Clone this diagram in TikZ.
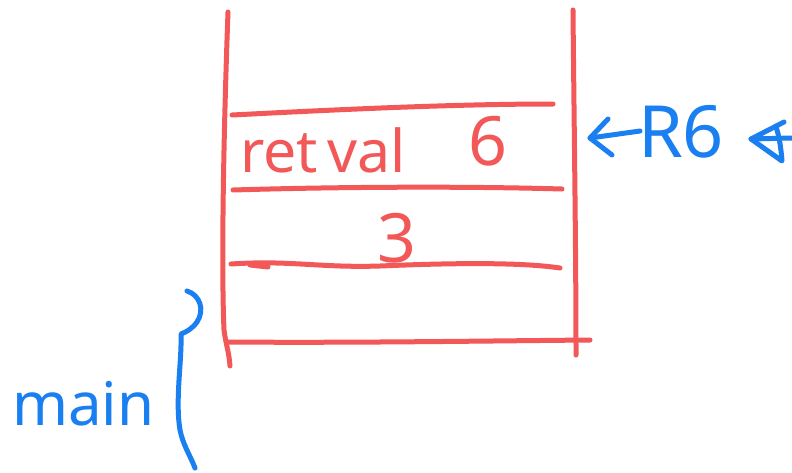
\documentclass[tikz,border=0pt]{standalone}
\usepackage{fontspec}
\setmainfont{Noto Sans}
\definecolor{inkred}{HTML}{F25858}
\definecolor{inkblue}{HTML}{1A7FF0}
\begin{document}
\begin{tikzpicture}[x=1pt,y=-1pt,
  pen/.style={line width=5pt,line cap=round,line join=round},
  redpen/.style={pen,draw=inkred},
  bluepen/.style={pen,draw=inkblue},
  redtext/.style={text=inkred,inner sep=0pt},
  bluetext/.style={text=inkblue,inner sep=0pt}]
\useasboundingbox[fill=white] (0,0) rectangle (792,472);

% stack frame: side walls
\draw[redpen] (228,12) .. controls (224,120) and (221,260) .. (224,330) .. controls (226,345) and (229,352) .. (230,366);
\draw[redpen] (573,10) .. controls (574,120) and (576,250) .. (576,355);
% slot separators
\draw[redpen] (232,115) .. controls (330,110) and (450,104) .. (553,104);
\draw[redpen] (233,190) .. controls (330,187) and (460,186) .. (562,189);
\draw[redpen] (231,264) .. controls (290,260) and (320,268) .. (380,266) .. controls (450,263) and (520,262) .. (560,268);
\draw[redpen] (250,265) -- (268,267);
\draw[redpen] (228,342) .. controls (350,343) and (480,341) .. (590,340);

% slot contents
\node[redtext,font=\fontsize{59}{59}\selectfont,anchor=base west] (retval) at (240,172) {ret\,val};
\node[redtext,font=\fontsize{68}{68}\selectfont,anchor=base] (six) at (488,165) {6};
\node[redtext,font=\fontsize{68}{68}\selectfont,anchor=base] (three) at (397,262) {3};

% frame pointer label
\node[bluetext,font=\fontsize{72}{72}\selectfont,anchor=base west] (rsix) at (638,157) {R6};
\coordinate (arrA) at (640,131);
\coordinate (arrB) at (590,138);
\draw[bluepen] (arrA) -- (arrB);
\draw[bluepen] (608,119) -- (arrB) -- (612,155);
% second pointer, running off the right edge
\coordinate (tipC) at (751,139);
\draw[bluepen] (784,122) -- (tipC) -- (782,161) .. controls (781,148) and (779,135) .. (776,127);
\draw[bluepen] (tipC) -- (792,138);

% brace for main's frame
\draw[bluepen] (187,291) .. controls (200,295) and (205,310) .. (197,322) .. controls (192,329) and (186,332) .. (181,334)
  .. controls (182,360) and (175,400) .. (180,430) .. controls (183,445) and (190,455) .. (195,468);
\node[bluetext,font=\fontsize{60}{60}\selectfont,anchor=base west] (mainlbl) at (12,425) {main};
\end{tikzpicture}
\end{document}
